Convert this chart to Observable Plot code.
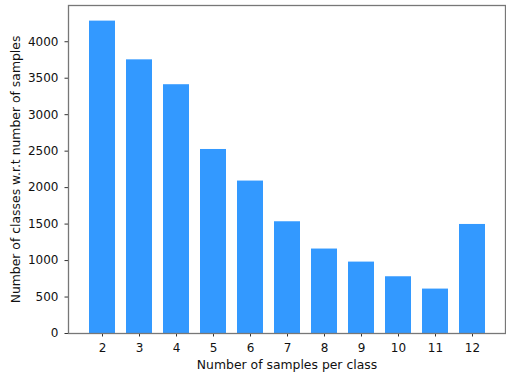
<!DOCTYPE html>
<html>
<head>
<meta charset="utf-8">
<script src="https://cdn.jsdelivr.net/npm/d3@7"></script>
<script src="https://cdn.jsdelivr.net/npm/@observablehq/plot@0.6"></script>
<style>
  html, body { margin: 0; padding: 0; background: #fff; }
  #chart { width: 506px; height: 374px; }
</style>
</head>
<body>
<div id="chart"></div>
<script>
const samplesPerClass = [2, 3, 4, 5, 6, 7, 8, 9, 10, 11, 12];
const classCounts = [4283, 3752, 3411, 2523, 2090, 1532, 1158, 979, 778, 609, 1495];
const yTicks = [0, 500, 1000, 1500, 2000, 2500, 3000, 3500, 4000];
const xLabel = "Number of samples per class";
const yLabel = "Number of classes w.r.t number of samples";

const data = samplesPerClass.map((k, i) => ({k, n: classCounts[i]}));
const font = "DejaVu Sans, sans-serif";

const chart = Plot.plot({
  width: 506,
  height: 374,
  marginLeft: 68,
  marginRight: 1,
  marginTop: 5,
  marginBottom: 41,
  style: {fontFamily: font, fontSize: "12px", color: "#111", background: "#fff"},
  x: {type: "band", domain: samplesPerClass, paddingInner: 0.3, paddingOuter: 0.535, label: null},
  y: {domain: [0, 4497], label: null},
  marks: [
    Plot.barY(data, {x: "k", y: "n", fill: "#3399ff"}),
    Plot.axisX({tickSize: 3.5, tickPadding: 6, stroke: "#333", fill: "#111", fontSize: 12, label: null}),
    Plot.axisY({ticks: yTicks, tickFormat: d => String(d), tickSize: 3.5, tickPadding: 6.5, stroke: "#333", fill: "#111", fontSize: 12, label: null}),
    Plot.frame({stroke: "#777", strokeWidth: 1.3}),
    Plot.text([xLabel], {frameAnchor: "bottom", dy: 32, text: d => d, lineAnchor: "middle", fontSize: 12.4, fill: "#111"}),
    Plot.text([yLabel], {frameAnchor: "left", dx: -52, rotate: -90, text: d => d, lineAnchor: "middle", textAnchor: "middle", fontSize: 12.4, fill: "#111"})
  ]
});
document.getElementById("chart").appendChild(chart);
</script>
</body>
</html>
